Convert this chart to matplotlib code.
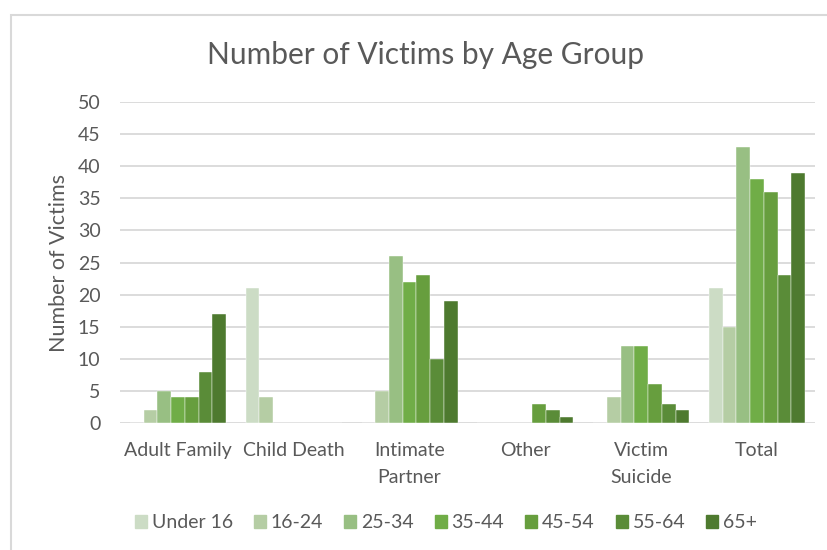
import matplotlib.pyplot as plt
import matplotlib.patches as mpatches
import numpy as np

plt.rcParams['font.family'] = ['Lato', 'DejaVu Sans']

categories = ["Adult Family", "Child Death", "Intimate\nPartner", "Other", "Victim\nSuicide", "Total"]
age_groups = ["Under 16", "16-24", "25-34", "35-44", "45-54", "55-64", "65+"]

# victims per age group, one list per age group across the categories
under16 = [0, 21, 0, 0, 0, 21]
age16_24 = [2, 4, 5, 0, 4, 15]
age25_34 = [5, 0, 26, 0, 12, 43]
age35_44 = [4, 0, 22, 0, 12, 38]
age45_54 = [4, 0, 23, 3, 6, 36]
age55_64 = [8, 0, 10, 2, 3, 23]
age65plus = [17, 0, 19, 1, 2, 39]
series = [under16, age16_24, age25_34, age35_44, age45_54, age55_64, age65plus]

colors = ["#ccdcc5", "#b5cda4", "#98bf83", "#70ad47", "#679e3e", "#5a8c38", "#4e7a2f"]
text_col = "#595959"
grid_col = "#d9d9d9"

fig = plt.figure(figsize=(8.28, 5.5), dpi=100)
ax = fig.add_axes([120/828, 1-423/550, 695/828, 321/550])

x = np.arange(len(categories))
w = 0.83 / len(series)
for i, vals in enumerate(series):
    ax.bar(x + (i - 3) * w, vals, width=w, color=colors[i], label=age_groups[i],
           edgecolor="white", linewidth=0.3, zorder=3)

ax.set_ylim(0, 50)
ax.set_xlim(-0.5, len(categories) - 0.5)
ax.set_yticks(range(0, 51, 5))
ax.yaxis.grid(True, color=grid_col, linewidth=1.3, zorder=0)
for s in ax.spines.values():
    s.set_visible(False)
ax.tick_params(axis='both', length=0, colors=text_col, labelsize=14)
ax.tick_params(axis='y', pad=14)
ax.tick_params(axis='x', pad=14)
ax.set_xticks(x)
ax.set_xticklabels(categories, linespacing=1.65)

ax.set_ylabel("Number of Victims", fontsize=15.5, color=text_col, labelpad=6)
fig.text(426/828, 1-55/550, "Number of Victims by Age Group", fontsize=21.5,
         color=text_col, ha="center", va="center")

handles = [mpatches.Patch(color=c, label=l) for c, l in zip(colors, age_groups)]
fig.legend(handles=handles, loc="center", bbox_to_anchor=(446/828, 1-523/550),
           ncol=7, frameon=False, fontsize=14, handlelength=0.6, handleheight=0.6,
           handletextpad=0.25, columnspacing=1.1, labelcolor=text_col)

# chart frame
fig.patches.append(mpatches.Rectangle((11/828, -0.1), 1.2, 1 - 15/550 + 0.1,
                                      transform=fig.transFigure, fill=False,
                                      edgecolor="#d9d9d9", linewidth=1.5))

plt.savefig("out.png", dpi=100)
